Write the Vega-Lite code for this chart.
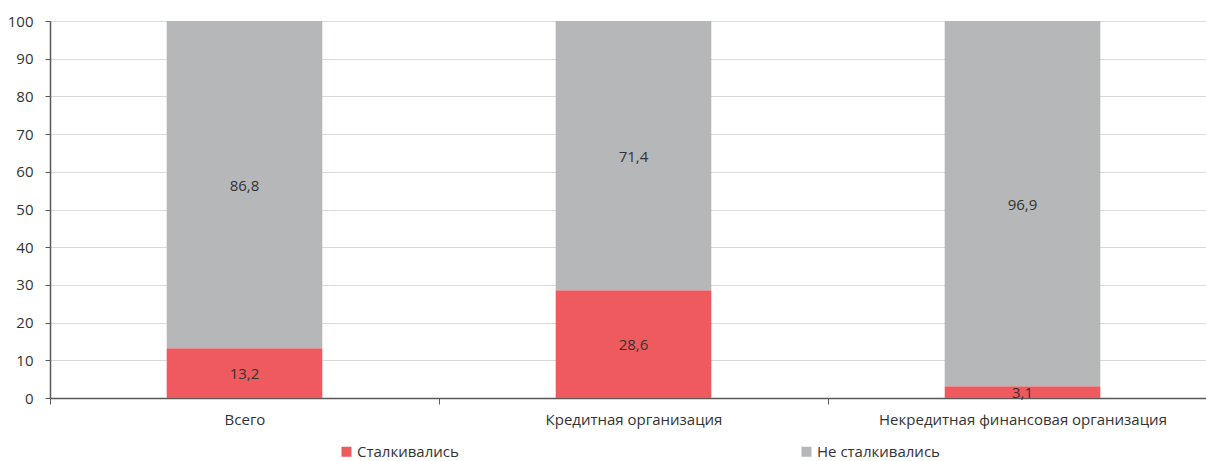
{
  "$schema": "https://vega.github.io/schema/vega-lite/v6.json",
  "width": 1156,
  "height": 377,
  "autosize": "none",
  "padding": {"left": 50, "top": 21, "right": 0, "bottom": 63},
  "background": "white",
  "config": {
    "view": {"stroke": null},
    "font": "Open Sans",
    "locale": {"number": {"decimal": ",", "thousands": " ", "grouping": [3], "currency": ["", ""]}},
    "axisY": {
      "labelOverlap": false, "labelFlush": false,
      "labelFontSize": 15, "labelColor": "#333333", "labelPadding": 12,
      "gridColor": "#d9d9d9", "gridWidth": 1,
      "domainColor": "#595959", "domainWidth": 1.5, "tickColor": "#595959", "tickSize": 5
    }
  },
  "data": {
    "values": [
      {"cat": "Всего", "group": "Сталкивались", "value": 13.2},
      {"cat": "Всего", "group": "Не сталкивались", "value": 86.8},
      {"cat": "Кредитная организация", "group": "Сталкивались", "value": 28.6},
      {"cat": "Кредитная организация", "group": "Не сталкивались", "value": 71.4},
      {"cat": "Некредитная финансовая организация", "group": "Сталкивались", "value": 3.1},
      {"cat": "Некредитная финансовая организация", "group": "Не сталкивались", "value": 96.9}
    ]
  },
  "transform": [
    {"stack": "value", "groupby": ["cat"], "sort": [{"field": "group", "order": "descending"}], "as": ["v0", "v1"]},
    {"calculate": "(datum.v0 + datum.v1) / 2", "as": "mid"}
  ],
  "encoding": {
    "x": {
      "field": "cat", "type": "nominal", "sort": null, "title": null,
      "scale": {"paddingInner": 0, "paddingOuter": 0, "range": [0, 1167]},
      "axis": {
        "labelAngle": 0, "labelFontSize": 15, "labelColor": "#333333", "labelPadding": 8, "labelLimit": 0,
        "domainColor": "#595959", "domainWidth": 1.5, "tickColor": "#595959", "tickSize": 6,
        "tickBand": "extent", "grid": false
      }
    }
  },
  "layer": [
    {
      "mark": {"type": "bar", "width": {"band": 0.4}},
      "encoding": {
        "y": {
          "field": "v0", "type": "quantitative", "title": null,
          "scale": {"domain": [0, 100], "nice": false},
          "axis": {"values": [0, 10, 20, 30, 40, 50, 60, 70, 80, 90, 100]}
        },
        "y2": {"field": "v1"},
        "color": {
          "field": "group", "type": "nominal",
          "scale": {"domain": ["Сталкивались", "Не сталкивались"], "range": ["#EF5A5F", "#B6B7B9"]},
          "legend": {
            "title": null, "orient": "none", "direction": "horizontal",
            "legendX": 289, "legendY": 423,
            "symbolType": "square", "symbolSize": 100, "symbolStrokeWidth": 0,
            "labelFontSize": 15, "labelColor": "#333333", "labelOffset": 3,
            "columnPadding": 340, "padding": 0
          }
        }
      }
    },
    {
      "mark": {"type": "text", "fontSize": 15, "color": "#333333", "baseline": "middle", "dy": 1},
      "encoding": {
        "y": {
          "field": "mid", "type": "quantitative", "title": null,
          "scale": {"domain": [0, 100], "nice": false},
          "axis": {"values": [0, 10, 20, 30, 40, 50, 60, 70, 80, 90, 100]}
        },
        "text": {"field": "value", "type": "quantitative", "format": ".1f"}
      }
    }
  ]
}
